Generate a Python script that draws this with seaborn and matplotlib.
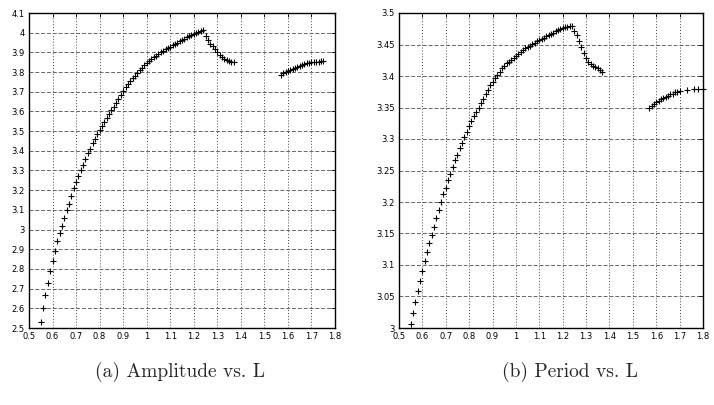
import matplotlib
matplotlib.use("Agg")
import matplotlib.pyplot as plt
import seaborn as sns
import pandas as pd
from matplotlib.ticker import FuncFormatter, MultipleLocator

# ---------------- data ----------------
L_rise = [0.55, 0.56, 0.57, 0.58, 0.59, 0.60, 0.61, 0.62, 0.63, 0.64,
          0.65, 0.66, 0.67, 0.68, 0.69, 0.70, 0.71, 0.72, 0.73, 0.74,
          0.75, 0.76, 0.77, 0.78, 0.79, 0.80, 0.81, 0.82, 0.83, 0.84,
          0.85, 0.86, 0.87, 0.88, 0.89, 0.90, 0.91, 0.92, 0.93, 0.94,
          0.95, 0.96, 0.97, 0.98, 0.99, 1.00, 1.01, 1.02, 1.03, 1.04,
          1.05, 1.06, 1.07, 1.08, 1.09, 1.10, 1.11, 1.12, 1.13, 1.14,
          1.15, 1.16, 1.17, 1.18, 1.19, 1.20, 1.21, 1.22, 1.23, 1.24,
          1.25, 1.26, 1.27, 1.28, 1.29, 1.30, 1.31, 1.32, 1.33, 1.34,
          1.35, 1.36, 1.37]

amp_rise = [2.53, 2.60, 2.67, 2.73, 2.79, 2.84, 2.89, 2.94, 2.98, 3.02,
            3.06, 3.10, 3.13, 3.17, 3.21, 3.24, 3.27, 3.30, 3.33, 3.36,
            3.39, 3.41, 3.44, 3.46, 3.485, 3.505, 3.525, 3.545, 3.565, 3.585,
            3.605, 3.625, 3.645, 3.665, 3.685, 3.705, 3.722, 3.738, 3.753, 3.768,
            3.782, 3.796, 3.809, 3.822, 3.834, 3.846, 3.856, 3.866, 3.875, 3.884,
            3.892, 3.900, 3.908, 3.915, 3.922, 3.929, 3.936, 3.943, 3.950, 3.957,
            3.964, 3.970, 3.976, 3.982, 3.988, 3.994, 3.999, 4.004, 4.009, 4.013,
            3.985, 3.962, 3.945, 3.930, 3.915, 3.900, 3.888, 3.877, 3.868, 3.862,
            3.857, 3.853, 3.851]

per_rise = [3.007, 3.024, 3.041, 3.058, 3.074, 3.091, 3.106, 3.121, 3.135, 3.148,
            3.161, 3.175, 3.187, 3.200, 3.213, 3.223, 3.235, 3.245, 3.255, 3.266,
            3.275, 3.285, 3.294, 3.303, 3.311, 3.320, 3.328, 3.336, 3.343, 3.350,
            3.357, 3.364, 3.371, 3.378, 3.385, 3.391, 3.397, 3.402, 3.407, 3.412,
            3.416, 3.420, 3.423, 3.426, 3.429, 3.432, 3.435, 3.438, 3.441, 3.444,
            3.446, 3.448, 3.451, 3.453, 3.455, 3.457, 3.459, 3.461, 3.463, 3.465,
            3.467, 3.469, 3.471, 3.473, 3.474, 3.476, 3.477, 3.478, 3.479, 3.479,
            3.472, 3.465, 3.456, 3.446, 3.436, 3.428, 3.423, 3.419, 3.416, 3.414,
            3.412, 3.410, 3.407]

L_amp_tail = [1.57, 1.58, 1.59, 1.60, 1.61, 1.62, 1.63, 1.64, 1.65, 1.66,
              1.67, 1.68, 1.69, 1.70, 1.71, 1.72, 1.73, 1.74, 1.75]
amp_tail = [3.783, 3.795, 3.800, 3.807, 3.813, 3.818, 3.823, 3.828, 3.833, 3.837,
            3.841, 3.844, 3.847, 3.849, 3.851, 3.852, 3.853, 3.854, 3.855]

L_per_tail = [1.57, 1.58, 1.59, 1.60, 1.61, 1.62, 1.63, 1.64, 1.65, 1.66,
              1.67, 1.68, 1.69, 1.70, 1.73, 1.76, 1.78, 1.80]
per_tail = [3.349, 3.353, 3.356, 3.359, 3.361, 3.363, 3.365, 3.367, 3.369, 3.371,
            3.372, 3.374, 3.375, 3.376, 3.378, 3.379, 3.380, 3.380]

captions = ["(a) Amplitude vs. L", "(b) Period vs. L"]

# ---------------- figure ----------------
sns.set_style("white")
plt.rcParams["font.family"] = ["Liberation Sans Narrow", "DejaVu Sans"]

fig = plt.figure(figsize=(7.14, 4.05), dpi=100)
fig.patch.set_facecolor("white")

ax1 = fig.add_axes([29 / 714, 1 - 328 / 405, 306 / 714, 315 / 405])
ax2 = fig.add_axes([399 / 714, 1 - 328 / 405, 304 / 714, 315 / 405])

df_amp = pd.DataFrame({"L": L_rise + L_amp_tail, "v": amp_rise + amp_tail})
df_per = pd.DataFrame({"L": L_rise + L_per_tail, "v": per_rise + per_tail})

fmt = FuncFormatter(lambda v, p: ("%g" % round(v, 4)))

for ax, df, ylim, ystep in [(ax1, df_amp, (2.5, 4.1), 0.1),
                            (ax2, df_per, (3.0, 3.5), 0.05)]:
    sns.scatterplot(data=df, x="L", y="v", ax=ax, marker="+", color="black",
                    s=22, linewidth=0.8, legend=False, clip_on=False, zorder=3)
    ax.set_xlim(0.5, 1.8)
    ax.set_ylim(*ylim)
    ax.xaxis.set_major_locator(MultipleLocator(0.1))
    ax.yaxis.set_major_locator(MultipleLocator(ystep))
    ax.xaxis.set_major_formatter(fmt)
    ax.yaxis.set_major_formatter(fmt)
    ax.set_xlabel("")
    ax.set_ylabel("")
    ax.set_facecolor("white")
    ax.xaxis.grid(True, color="#444444", linestyle=(0, (1, 2)), linewidth=0.7)
    ax.yaxis.grid(True, color="#666666", linestyle=(0, (4, 2)), linewidth=0.7)
    ax.set_axisbelow(True)
    for sp in ax.spines.values():
        sp.set_visible(True)
        sp.set_color("black")
        sp.set_linewidth(1.0)
    ax.tick_params(axis="both", direction="in", length=3, width=0.6,
                   labelsize=6, colors="black", pad=3,
                   top=True, right=True)

fig.text(180 / 714, 1 - 372 / 405, captions[0], family="cmr10", fontsize=14,
         ha="center", va="center")
fig.text(570 / 714, 1 - 372 / 405, captions[1], family="cmr10", fontsize=14,
         ha="center", va="center")

fig.savefig("out.png", dpi=100)
